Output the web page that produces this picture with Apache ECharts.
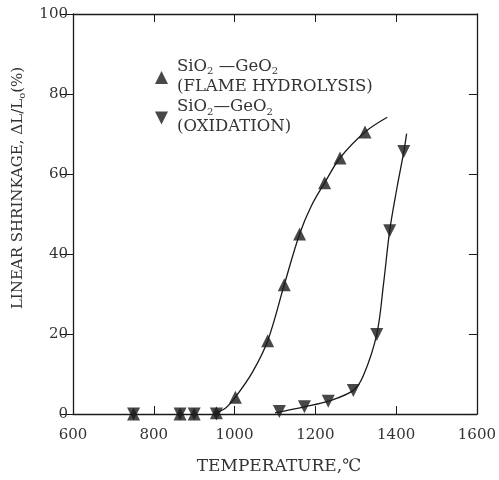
<!DOCTYPE html>
<html><head><meta charset="utf-8">
<script src="https://cdn.jsdelivr.net/npm/echarts@6/dist/echarts.min.js"></script>
<style>html,body{margin:0;padding:0;background:#fff}#c{width:499px;height:480px}</style>
</head><body><div id="c"></div>
<script>
// Measured points (temperature °C, linear shrinkage %)
const flameTemp = [750, 865, 900, 955, 1002, 1082, 1123, 1161, 1223, 1261, 1323];
const flameVal  = [0, 0, 0, 0.3, 4.2, 18.3, 32.3, 45, 57.8, 64, 70.5];
const oxTemp = [750, 865, 900, 955, 1111, 1173, 1232, 1294, 1352, 1384, 1419];
const oxVal  = [0, 0, 0, 0, 0.6, 1.8, 3.2, 5.9, 19.9, 45.8, 65.6];
// Fitted curves
const flameCurveTemp = [952, 978, 1002, 1044, 1082, 1123, 1161, 1190, 1223, 1261, 1323, 1378];
const flameCurveVal  = [0.2, 1.5, 4.2, 10.4, 18.3, 32.3, 45, 52, 57.8, 64, 70.5, 74.2];
const oxCurveTemp = [1100, 1173, 1232, 1294, 1319, 1352, 1369, 1384, 1402, 1419, 1426];
const oxCurveVal  = [0.3, 1.8, 3.2, 5.9, 9.6, 19.9, 32.7, 45.8, 56.5, 65.6, 70.1];
const xTicks = [600, 800, 1000, 1200, 1400, 1600];
const yTicks = [0, 20, 40, 60, 80, 100];

const zip = (a, b) => a.map((v, i) => [v, b[i]]);
const F = '"DejaVu Serif", "Liberation Serif", serif';
const ink = '#1a1a1a';
const txt = '#333';
const chart = echarts.init(document.getElementById('c'), null, {renderer: 'canvas'});
const axisBase = {
  axisLine: {show: true, onZero: false, lineStyle: {color: ink, width: 1.3}},
  splitLine: {show: false}
};
chart.setOption({
  backgroundColor: '#fff',
  animation: false,
  textStyle: {fontFamily: F},
  grid: {left: 73, right: 19, top: 14, bottom: 61},
  legend: {
    orient: 'vertical', left: 150, top: 53, itemGap: 2,
    itemWidth: 13, itemHeight: 13,
    textStyle: {
      fontFamily: F, fontSize: 17, color: txt, verticalAlign: 'top', padding: [-2, 0, 0, 4], lineHeight: 20,
      rich: {
        a: {fontFamily: F, fontSize: 16.5, color: txt, lineHeight: 20},
        s: {fontFamily: F, fontSize: 10, color: txt, verticalAlign: 'bottom', lineHeight: 20, padding: [6, 0, 0, 0]}
      }
    },
    data: [
      {name: 'FLAME', icon: 'triangle'},
      {name: 'OXIDATION', icon: 'path://M0,0 L10,0 L5,10 Z'}
    ],
    formatter: function (n) {
      return n === 'FLAME'
        ? '{a|SiO}{s|2}{a| —GeO}{s|2}\n{a|(FLAME HYDROLYSIS)}'
        : '{a|SiO}{s|2}{a|—GeO}{s|2}\n{a|(OXIDATION)}';
    }
  },
  xAxis: [
    Object.assign({}, axisBase, {
      type: 'value', position: 'bottom', min: xTicks[0], max: xTicks[xTicks.length - 1], interval: 200,
      name: 'TEMPERATURE,℃', nameLocation: 'middle', nameGap: 44,
      nameTextStyle: {fontFamily: F, fontSize: 17, color: txt, padding: [0, 0, 0, 8]},
      axisTick: {show: true, inside: true, length: 8, lineStyle: {color: ink}},
      axisLabel: {fontFamily: F, fontSize: 15, color: txt, margin: 14, formatter: v => String(v)}
    }),
    Object.assign({}, axisBase, {
      type: 'value', position: 'top', min: xTicks[0], max: xTicks[xTicks.length - 1], interval: 200,
      axisTick: {show: true, inside: true, length: 8, lineStyle: {color: ink}},
      axisLabel: {show: false}
    })
  ],
  yAxis: [
    Object.assign({}, axisBase, {
      type: 'value', position: 'left', min: yTicks[0], max: yTicks[yTicks.length - 1], interval: 20,
      name: '{a|LINEAR SHRINKAGE, ΔL/L}{s|o}{a|(%)}', nameLocation: 'middle', nameGap: 46, nameRotate: 90,
      nameTextStyle: {
        fontFamily: F, fontSize: 15, color: txt, padding: [0, 0, 0, 52],
        rich: {a: {fontFamily: F, fontSize: 15, color: txt}, s: {fontFamily: F, fontSize: 10, color: txt, padding: [7, 0, 0, 0]}}
      },
      axisTick: {show: true, inside: false, length: 12, lineStyle: {color: ink}},
      axisLabel: {fontFamily: F, fontSize: 15, color: txt, margin: 5}
    }),
    Object.assign({}, axisBase, {
      type: 'value', position: 'right', min: yTicks[0], max: yTicks[yTicks.length - 1], interval: 20,
      axisTick: {show: true, inside: true, length: 8, lineStyle: {color: ink}},
      axisLabel: {show: false}
    })
  ],
  series: [
    {type: 'line', smooth: 0.35, showSymbol: false, data: zip(flameCurveTemp, flameCurveVal),
     lineStyle: {color: ink, width: 1.3}, silent: true, z: 2},
    {type: 'line', smooth: 0.35, showSymbol: false, data: zip(oxCurveTemp, oxCurveVal),
     lineStyle: {color: ink, width: 1.3}, silent: true, z: 2},
    {name: 'FLAME', type: 'scatter', symbol: 'triangle', symbolSize: 13,
     itemStyle: {color: ink}, data: zip(flameTemp, flameVal), z: 3},
    {name: 'OXIDATION', type: 'scatter', symbol: 'path://M0,0 L10,0 L5,10 Z', symbolSize: 13,
     itemStyle: {color: ink}, data: zip(oxTemp, oxVal), z: 3}
  ]
});
</script></body></html>
